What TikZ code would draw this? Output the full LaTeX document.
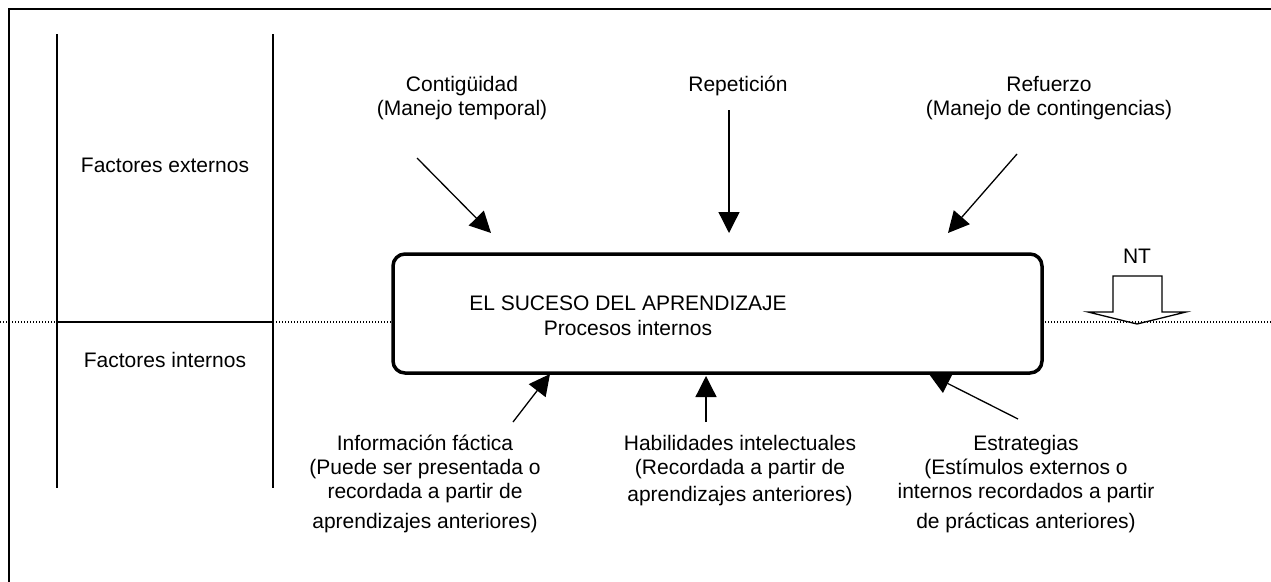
\documentclass[tikz,border=0pt]{standalone}
\usepackage{fontspec}
\setmainfont{Liberation Sans}
\usetikzlibrary{arrows.meta}
\begin{document}
\begin{tikzpicture}[x=1pt,y=-1pt,
  lbl/.style={font=\fontsize{21}{24}\selectfont, align=center, inner sep=0pt},
  arr/.style={line width=1.3pt, -{Triangle[length=21pt,width=21pt]}},
  thin line/.style={line width=1.3pt},
  dotline/.style={line width=1.1pt, dash pattern=on 1.2pt off 1.8pt},
  eventbox/.style={draw, line width=3.5pt, rounded corners=12pt, inner sep=0pt}]
\useasboundingbox (0,0) rectangle (1271,581);
\clip (0,0) rectangle (1271,581);
% outer frame
\draw[thin line] (9,620) -- (9,9) -- (1300,9);
% left panel
\coordinate (v1t) at (57,34);
\coordinate (v1b) at (57,488);
\coordinate (v2t) at (273,34);
\coordinate (v2b) at (273,488);
\draw[thin line] (v1t) -- (v1b);
\draw[thin line] (v2t) -- (v2b);
% box
\node[eventbox, minimum width=649pt, minimum height=119pt] (box) at (717.5,313.5) {};
\node[lbl, font=\fontsize{21}{25}\selectfont] (title) at (628,316) {EL SUCESO DEL APRENDIZAJE\\Procesos internos};
% dotted line
\coordinate (dl) at (0,322);
\coordinate (dr) at (1271,322);
\draw[dotline] (dl) -- (dl -| box.west);
\draw[dotline] (dr) -- (dr -| box.east);
\draw[thin line] (v1b |- dl) -- (v2b |- dl);
\node[lbl] (fext) at (165,165) {Factores externos};
\node[lbl] (fint) at (165,360) {Factores internos};
% NT arrow
\node[lbl] (nt) at (1137,256) {NT};
\draw[thin line, line join=miter] (1113,276) -- (1162,276) -- (1162,312) -- (1186,312) -- (1137,324) -- (1088,312) -- (1113,312) -- cycle;
% top labels
\node[lbl, anchor=north] (cont) at (462,76) {Contigüidad\\(Manejo temporal)};
\node[lbl, anchor=north] (rep) at (738,76) {Repetición};
\node[lbl, anchor=north] (ref) at (1049,76) {Refuerzo\\(Manejo de contingencias)};
% top arrows
\coordinate (a1s) at (417,158);
\coordinate (a1e) at (491,233);
\coordinate (a2s) at (729,110);
\coordinate (a2e) at (729,233);
\coordinate (a3s) at (1017,154);
\coordinate (a3e) at (948,233);
\draw[arr] (a1s) -- (a1e);
\draw[arr] (a2s) -- (a2e);
\draw[arr] (a3s) -- (a3e);
% bottom arrows
\coordinate (b1s) at (513,422);
\coordinate (b1e) at (550,374);
\coordinate (b2s) at (706,422);
\coordinate (b2e) at (706,376);
\coordinate (b3s) at (1018,419);
\coordinate (b3e) at (929,374);
\draw[arr] (b1s) -- (b1e);
\draw[arr] (b2s) -- (b2e);
\draw[arr] (b3s) -- (b3e);
% bottom labels
\node[lbl, anchor=north] (info) at (425,435) {Información fáctica\\(Puede ser presentada o\\recordada a partir de\\[6pt]aprendizajes anteriores)};
\node[lbl, anchor=north] (hab) at (740,435) {Habilidades intelectuales\\(Recordada a partir de\\[3pt]aprendizajes anteriores)};
\node[lbl, anchor=north] (est) at (1026,435) {Estrategias\\(Estímulos externos o\\internos recordados a partir\\[6pt]de prácticas anteriores)};
\end{tikzpicture}
\end{document}
